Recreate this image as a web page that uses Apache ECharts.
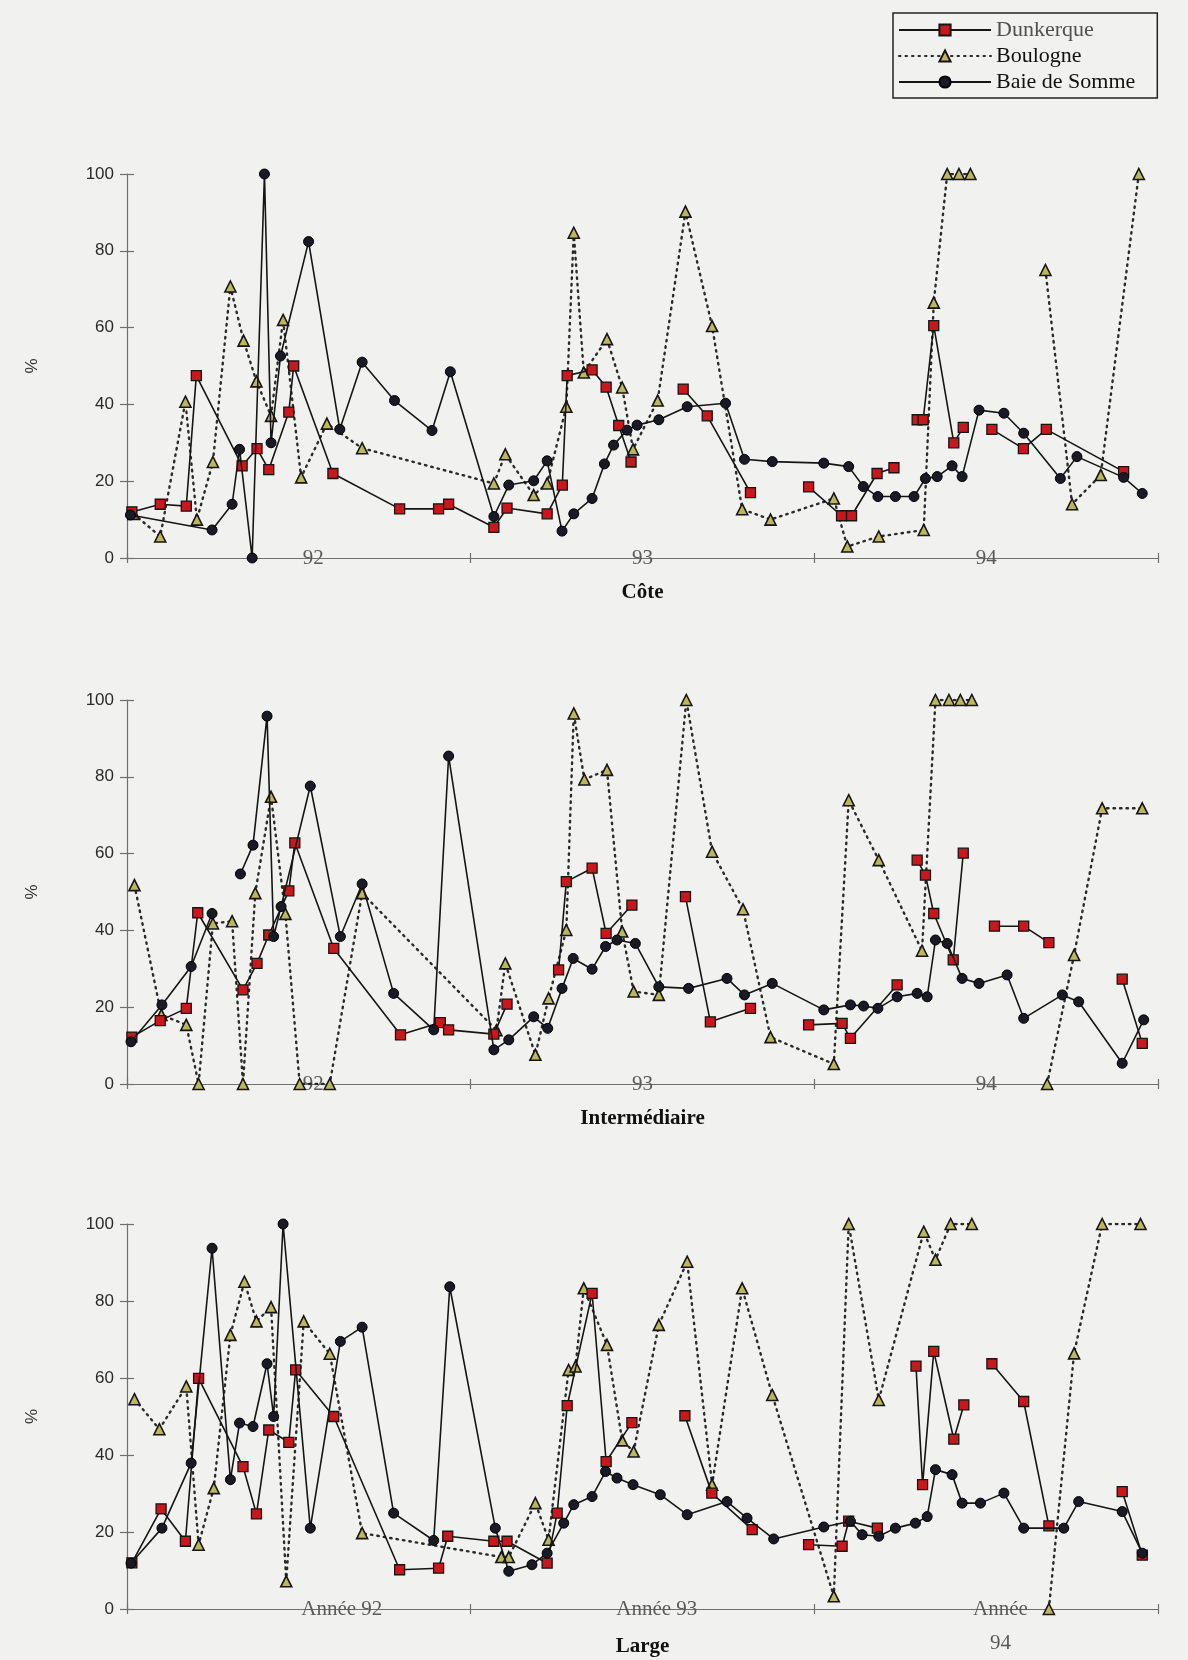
<!DOCTYPE html>
<html>
<head>
<meta charset="utf-8">
<title>Dunkerque, Boulogne, Baie de Somme</title>
<script src="https://cdn.jsdelivr.net/npm/echarts@6/dist/echarts.min.js"></script>
<style>
  html, body { margin: 0; padding: 0; background: #f1f1ef; }
  #chart { width: 1188px; height: 1660px; }
</style>
</head>
<body>
<div id="chart"></div>
<script>
// x = months since January 1992, y = percentage. '-' marks a break in the line.
const seriesNames = ['Dunkerque', 'Boulogne', 'Baie de Somme'];
const panelTitles = ['Côte', 'Intermédiaire', 'Large'];
const yearLabels = ['92', '93', '94'];
const largeYearLabels = ['Année 92', 'Année 93', 'Année\n94'];

// ---- Côte ----
const coteDunkerque = [
  [0.17, 12], [1.16, 14], [2.07, 13.5], [2.42, 47.5], [4.02, 24], [4.54, 28.5], [4.95, 23],
  [5.65, 38], [5.82, 50], [7.19, 22], [9.52, 12.8], [10.88, 12.8], [11.23, 14], [12.81, 8],
  [13.27, 13], [14.67, 11.5], [15.2, 19], [15.37, 47.5], [16.24, 49], [16.73, 44.5],
  [17.17, 34.5], [17.6, 25], [17.6, '-'],
  [19.42, 44], [20.26, 37], [21.77, 17], [21.77, '-'],
  [23.8, 18.5], [24.95, 11], [25.3, 11], [26.19, 22], [26.78, 23.5], [26.78, '-'],
  [27.59, 36], [27.8, 36], [28.17, 60.5], [28.87, 30], [29.2, 34], [29.2, '-'],
  [30.2, 33.5], [31.3, 28.5], [32.1, 33.5], [34.8, 22.5]
];
const coteBoulogne = [
  [0.23, 11.5], [1.16, 5.6], [2.04, 40.7], [2.44, 10], [3.0, 25], [3.61, 70.7], [4.07, 56.6],
  [4.52, 46], [5.03, 37], [5.45, 62], [6.08, 21], [6.98, 35], [8.21, 28.6], [12.81, 19.4],
  [13.21, 27], [14.2, 16.4], [14.67, 19.4], [15.34, 39.4], [15.6, 84.7], [15.95, 48.3],
  [16.76, 57], [17.29, 44.4], [17.67, 28.3], [18.53, 41], [19.5, 90.2], [20.43, 60.4],
  [21.48, 12.7], [22.47, 10], [24.68, 15.5], [25.15, 3], [26.25, 5.6], [27.82, 7.3],
  [28.17, 66.5], [28.64, 100], [29.05, 100], [29.45, 100], [29.45, '-'],
  [32.07, 75], [33.0, 14], [34.0, 21.6], [35.33, 100]
];
const coteBaie = [
  [0.12, 11.2], [2.97, 7.3], [3.67, 14], [3.93, 28.3], [4.37, 0], [4.8, 100], [5.03, 30],
  [5.36, 52.6], [6.34, 82.4], [7.43, 33.5], [8.21, 51], [9.34, 41], [10.65, 33.2],
  [11.29, 48.5], [12.81, 10.8], [13.33, 19], [14.2, 20.1], [14.67, 25.3], [15.19, 7],
  [15.6, 11.5], [16.24, 15.5], [16.67, 24.5], [16.99, 29.4], [17.46, 33.3], [17.81, 34.6],
  [18.57, 36], [19.56, 39.4], [20.9, 40.3], [21.56, 25.7], [22.53, 25.1], [24.33, 24.7],
  [25.2, 23.8], [25.71, 18.6], [26.22, 16], [26.83, 16], [27.48, 16], [27.88, 20.7],
  [28.29, 21.2], [28.81, 24], [29.16, 21.2], [29.75, 38.5], [30.62, 37.7], [31.31, 32.5],
  [32.59, 20.7], [33.17, 26.4], [34.8, 21], [35.45, 16.8]
];

// ---- Intermédiaire ----
const interDunkerque = [
  [0.17, 12.2], [1.16, 16.5], [2.07, 19.7], [2.47, 44.6], [4.05, 24.5], [4.54, 31.4],
  [4.95, 38.8], [5.65, 50.3], [5.86, 62.8], [7.22, 35.3], [9.55, 12.8], [10.94, 16],
  [11.23, 14.1], [12.81, 13], [13.27, 20.8], [13.27, '-'],
  [15.07, 29.7], [15.34, 52.7], [16.24, 56.2], [16.73, 39.2], [17.63, 46.6], [17.63, '-'],
  [19.5, 48.8], [20.37, 16.2], [21.77, 19.7], [21.77, '-'],
  [23.8, 15.4], [24.97, 15.8], [25.26, 11.9], [26.89, 25.8], [26.89, '-'],
  [27.59, 58.3], [27.88, 54.4], [28.17, 44.4], [28.85, 32.3], [29.2, 60.1], [29.2, '-'],
  [30.29, 41.1], [31.31, 41.1], [32.19, 36.8], [32.19, '-'],
  [34.75, 27.3], [35.45, 10.6]
];
const interBoulogne = [
  [0.26, 51.8], [1.2, 18], [2.07, 15.4], [2.5, 0], [3.0, 41.8], [3.67, 42.4], [4.05, 0],
  [4.48, 49.7], [5.03, 74.8], [5.53, 44.3], [6.03, 0], [7.08, 0], [8.21, 49.7], [12.9, 14],
  [13.21, 31.4], [14.26, 7.6], [14.72, 22.3], [15.34, 40.1], [15.6, 96.5], [15.97, 79.3],
  [16.76, 81.8], [17.29, 39.7], [17.69, 24.1], [18.57, 23.2], [19.53, 100], [20.43, 60.5],
  [21.51, 45.5], [22.47, 12.2], [24.68, 5.2], [25.2, 73.9], [26.25, 58.3], [27.76, 34.7],
  [28.23, 100], [28.7, 100], [29.1, 100], [29.5, 100], [29.5, '-'],
  [32.13, 0], [33.07, 33.6], [34.05, 71.8], [35.45, 71.8]
];
const interBaie = [
  [0.14, 11], [1.22, 20.6], [2.24, 30.6], [2.97, 44.4], [2.97, '-'],
  [3.96, 54.7], [4.4, 62.2], [4.89, 95.8], [5.12, 38.4], [5.38, 46.2], [6.4, 77.6],
  [7.45, 38.4], [8.21, 52.1], [9.31, 23.6], [10.71, 14.1], [11.23, 85.4], [12.81, 8.9],
  [13.33, 11.5], [14.2, 17.5], [14.69, 14.5], [15.19, 24.9], [15.58, 32.7], [16.24, 29.9],
  [16.71, 35.8], [17.11, 37.5], [17.75, 36.6], [18.57, 25.3], [19.61, 24.9], [20.95, 27.5],
  [21.56, 23.2], [22.53, 26.2], [24.33, 19.3], [25.26, 20.6], [25.72, 20.3], [26.22, 19.7],
  [26.89, 22.7], [27.59, 23.6], [27.94, 22.7], [28.23, 37.5], [28.64, 36.6], [29.16, 27.5],
  [29.75, 26.2], [30.73, 28.4], [31.31, 17.1], [32.66, 23.2], [33.23, 21.4], [34.75, 5.4],
  [35.5, 16.7]
];

// ---- Large ----
const largeDunkerque = [
  [0.17, 12], [1.19, 26], [2.04, 17.6], [2.5, 59.9], [4.05, 37], [4.52, 24.7], [4.95, 46.5],
  [5.65, 43.3], [5.89, 62.1], [7.22, 50], [9.52, 10.2], [10.88, 10.6], [11.2, 18.9],
  [12.81, 17.6], [13.27, 17.6], [14.67, 11.9], [15.02, 24.9], [15.37, 52.8], [16.24, 82],
  [16.73, 38.3], [17.63, 48.4], [17.63, '-'],
  [19.48, 50.2], [20.42, 30.1], [21.83, 20.6], [21.83, '-'],
  [23.8, 16.7], [24.97, 16.3], [25.2, 22.8], [26.2, 21], [26.2, '-'],
  [27.55, 63.1], [27.78, 32.3], [28.17, 66.9], [28.87, 44.1], [29.22, 53], [29.22, '-'],
  [30.2, 63.7], [31.31, 53.9], [32.19, 21.6], [32.19, '-'],
  [34.75, 30.5], [35.45, 14]
];
const largeBoulogne = [
  [0.26, 54.5], [1.13, 46.7], [2.07, 57.8], [2.5, 16.7], [3.03, 31.4], [3.61, 71.2],
  [4.1, 85], [4.52, 74.7], [5.03, 78.4], [5.56, 7.2], [6.17, 74.7], [7.08, 66.3],
  [8.21, 19.7], [13.07, 13.5], [13.33, 13.5], [14.26, 27.5], [14.72, 18], [15.42, 62.1],
  [15.66, 63], [15.95, 83.3], [16.76, 68.6], [17.29, 43.8], [17.69, 40.9], [18.57, 73.8],
  [19.56, 90.2], [20.43, 32.3], [21.48, 83.3], [22.53, 55.6], [24.68, 3.3], [25.2, 100],
  [26.25, 54.3], [27.82, 98], [28.23, 90.7], [28.76, 100], [29.5, 100], [29.5, '-'],
  [32.19, 0], [33.07, 66.4], [34.05, 100], [35.39, 100]
];
const largeBaie = [
  [0.14, 11.9], [1.22, 21], [2.24, 37.9], [2.97, 93.7], [3.61, 33.6], [3.93, 48.3],
  [4.4, 47.4], [4.89, 63.7], [5.12, 50], [5.45, 100], [6.4, 21], [7.45, 69.5], [8.21, 73.2],
  [9.31, 24.9], [10.71, 17.8], [11.27, 83.7], [12.86, 21], [13.33, 9.8], [14.14, 11.5],
  [14.67, 14.5], [15.25, 22.3], [15.6, 27.1], [16.24, 29.2], [16.71, 35.7], [17.11, 34],
  [17.67, 32.3], [18.62, 29.7], [19.56, 24.5], [20.95, 27.9], [21.65, 23.6], [22.58, 18.2],
  [24.33, 21.3], [25.26, 22.8], [25.67, 19.3], [26.25, 18.9], [26.83, 21], [27.53, 22.3],
  [27.94, 24], [28.23, 36.2], [28.81, 34.9], [29.16, 27.5], [29.8, 27.5], [30.62, 30.1],
  [31.31, 21], [32.71, 21], [33.23, 27.9], [34.75, 25.3], [35.45, 14.5]
];

const panelSeries = [
  [coteDunkerque, coteBoulogne, coteBaie],
  [interDunkerque, interBoulogne, interBaie],
  [largeDunkerque, largeBoulogne, largeBaie]
];

// ---- layout & styles ----
const SERIF = 'Liberation Serif';
const SANS = 'Liberation Sans';
const AXIS_COLOR = '#6f6f6f';
const grids = [
  { left: 127, width: 1031, top: 174, height: 384 },
  { left: 127, width: 1031, top: 700, height: 384 },
  { left: 127, width: 1031, top: 1224, height: 385 }
];
// month at which each year label is centred, per panel
const labelSpots = [
  { 6.5: 0, 18: 1, 30: 2 },
  { 6.5: 0, 18: 1, 30: 2 },
  { 7.5: 0, 18.5: 1, 30.5: 2 }
];

const seriesStyle = [
  { symbol: 'rect', symbolSize: 10,
    itemStyle: { color: '#c9171c', borderColor: '#151515', borderWidth: 1.3 },
    lineStyle: { color: '#151515', width: 1.6, type: 'solid' }, z: 3 },
  { symbol: 'triangle', symbolSize: 11,
    itemStyle: { color: '#bdb75c', borderColor: '#151515', borderWidth: 1.6 },
    lineStyle: { color: '#2a2a2a', width: 2.4, type: [1.5, 5], cap: 'round' }, z: 2 },
  { symbol: 'circle', symbolSize: 10,
    itemStyle: { color: '#1a1a26', borderColor: '#000', borderWidth: 1 },
    lineStyle: { color: '#151515', width: 1.6, type: 'solid' }, z: 4 }
];

const xAxes = [];
const yAxes = [];
const series = [];

grids.forEach((g, i) => {
  const labels = i === 2 ? largeYearLabels : yearLabels;
  const spots = labelSpots[i];
  // main axis: line, outer ticks, panel title
  xAxes.push({
    gridIndex: i, type: 'value', position: 'bottom', min: 0, max: 36, interval: 12,
    axisLine: { show: true, onZero: false, lineStyle: { color: AXIS_COLOR, width: 1.2 } },
    axisTick: { show: true, length: 5, lineStyle: { color: AXIS_COLOR, width: 1.2 } },
    axisLabel: { show: false }, splitLine: { show: false },
    name: panelTitles[i], nameLocation: 'middle', nameGap: i === 2 ? 27 : 24,
    nameTextStyle: { fontFamily: SERIF, fontWeight: 'bold', fontSize: 21, color: '#111' }
  });
  // inner ticks so year boundaries cross the line
  xAxes.push({
    gridIndex: i, type: 'value', position: 'bottom', min: 0, max: 36, interval: 12,
    axisLine: { show: false, onZero: false }, axisLabel: { show: false }, splitLine: { show: false },
    axisTick: { show: true, inside: true, length: 5, lineStyle: { color: AXIS_COLOR, width: 1.2 } }
  });
  // year labels sitting on the axis line
  xAxes.push({
    gridIndex: i, type: 'value', position: 'bottom', min: 0, max: 36, interval: 0.5,
    axisLine: { show: false, onZero: false }, axisTick: { show: false }, splitLine: { show: false },
    axisLabel: {
      show: true, margin: i === 2 ? -17 : -12, interval: 0,
      fontFamily: SERIF, fontSize: 21, color: '#5a5a5a',
      lineHeight: i === 2 ? 34 : 24,
      formatter: v => (spots[v] !== undefined ? labels[spots[v]] : '')
    }
  });
  yAxes.push({
    gridIndex: i, type: 'value', position: 'left', min: 0, max: 100, interval: 20,
    axisLine: { show: true, onZero: false, lineStyle: { color: AXIS_COLOR, width: 1.2 } },
    axisTick: { show: true, length: 7, lineStyle: { color: AXIS_COLOR, width: 1.2 } },
    axisLabel: { margin: 13, fontFamily: SANS, fontSize: 17, color: '#2a2a2a' },
    splitLine: { show: false },
    name: '%', nameLocation: 'middle', nameGap: 86, nameRotate: 90,
    nameTextStyle: { fontFamily: SANS, fontSize: 17, color: '#333' }
  });
  yAxes.push({
    gridIndex: i, type: 'value', position: 'left', min: 0, max: 100, interval: 20,
    axisLine: { show: false, onZero: false }, axisLabel: { show: false }, splitLine: { show: false },
    axisTick: { show: true, inside: true, length: 7, lineStyle: { color: AXIS_COLOR, width: 1.2 } }
  });

  panelSeries[i].forEach((data, k) => {
    const st = seriesStyle[k];
    series.push({
      type: 'line', name: seriesNames[k],
      xAxisIndex: 3 * i, yAxisIndex: 2 * i,
      data: data, connectNulls: false,
      symbol: st.symbol, symbolSize: st.symbolSize, showAllSymbol: true,
      itemStyle: st.itemStyle, lineStyle: st.lineStyle, z: st.z,
      emphasis: { disabled: true }
    });
  });
});

const chart = echarts.init(document.getElementById('chart'), null, { renderer: 'canvas' });
chart.setOption({
  backgroundColor: '#f1f1ef',
  animation: false,
  legend: {
    left: 893, top: 13, orient: 'vertical',
    padding: [5, 22, 4, 5], itemGap: 2, itemWidth: 92, itemHeight: 14,
    borderColor: '#222', borderWidth: 1.5,
    textStyle: { fontFamily: SERIF, fontSize: 22, lineHeight: 24, color: '#111' },
    data: [
      { name: 'Dunkerque', textStyle: { color: '#505050' } },
      { name: 'Boulogne' },
      { name: 'Baie de Somme' }
    ],
    selectedMode: false
  },
  grid: grids,
  xAxis: xAxes,
  yAxis: yAxes,
  series: series
});
</script>
</body>
</html>
